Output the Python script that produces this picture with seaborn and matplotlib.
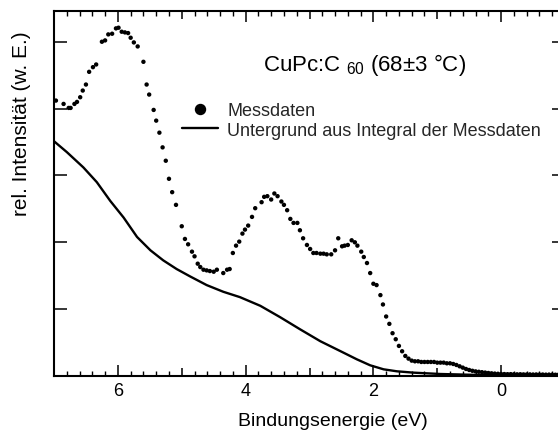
import matplotlib
matplotlib.use("Agg")
import matplotlib.pyplot as plt
import seaborn as sns
from matplotlib.lines import Line2D
from matplotlib.ticker import MultipleLocator, FuncFormatter, NullLocator

# ---------------- data ----------------
energy_meas = [6.97, 6.85, 6.77, 6.74, 6.68, 6.64, 6.59, 6.55, 6.50, 6.45,
               6.39, 6.34, 6.25, 6.20, 6.15, 6.09, 6.03, 5.99, 5.94, 5.89,
               5.84, 5.80, 5.75, 5.69, 5.60, 5.55, 5.51, 5.44, 5.40, 5.35,
               5.30, 5.25, 5.20, 5.15, 5.09, 5.00, 4.95, 4.90, 4.84, 4.80,
               4.75, 4.71, 4.66, 4.61, 4.56, 4.50, 4.45, 4.35, 4.29, 4.25,
               4.20, 4.15, 4.10, 4.05, 4.01, 3.96, 3.90, 3.85, 3.75, 3.71,
               3.66, 3.60, 3.55, 3.50, 3.44, 3.40, 3.35, 3.30, 3.25, 3.19,
               3.15, 3.10, 3.04, 2.99, 2.94, 2.89, 2.83, 2.78, 2.73, 2.66,
               2.60, 2.55, 2.49, 2.45, 2.40, 2.34, 2.29, 2.25, 2.19, 2.15,
               2.10, 2.05, 2.00, 1.95, 1.89, 1.85, 1.80, 1.75, 1.70, 1.65,
               1.60, 1.55, 1.50, 1.45, 1.40,
               1.35, 1.30, 1.25, 1.20, 1.15, 1.10, 1.05, 1.00, 0.95, 0.90,
               0.85, 0.80, 0.75, 0.70, 0.65, 0.60, 0.55, 0.50, 0.45, 0.40,
               0.35, 0.30, 0.25, 0.20, 0.15, 0.10, 0.05, 0.00, -0.05, -0.10,
               -0.15, -0.20, -0.25, -0.30, -0.35, -0.40, -0.45, -0.50, -0.55, -0.60,
               -0.65, -0.70, -0.75, -0.80, -0.85, -0.90]
intensity_meas = [4.12, 4.07, 4.01, 4.01, 4.07, 4.10, 4.17, 4.27, 4.36, 4.55,
                  4.62, 4.66, 5.00, 5.02, 5.11, 5.12, 5.20, 5.21, 5.15, 5.14,
                  5.13, 5.06, 4.99, 4.93, 4.70, 4.36, 4.21, 3.98, 3.82, 3.64,
                  3.42, 3.22, 2.95, 2.75, 2.56, 2.24, 2.05, 1.97, 1.86, 1.79,
                  1.68, 1.63, 1.59, 1.58, 1.57, 1.56, 1.59, 1.54, 1.59, 1.60,
                  1.84, 1.95, 2.01, 2.13, 2.19, 2.25, 2.38, 2.51, 2.60, 2.68,
                  2.69, 2.64, 2.73, 2.69, 2.61, 2.56, 2.48, 2.35, 2.29, 2.29,
                  2.18, 2.06, 1.96, 1.90, 1.84, 1.84, 1.83, 1.83, 1.82, 1.82,
                  1.88, 2.06, 1.94, 1.95, 1.96, 2.03, 2.00, 1.95, 1.86, 1.78,
                  1.69, 1.54, 1.38, 1.36, 1.21, 1.07, 0.89, 0.78, 0.64, 0.55,
                  0.45, 0.37, 0.30, 0.26, 0.23,
                  0.22, 0.22, 0.21, 0.21, 0.21, 0.21, 0.21, 0.20, 0.20, 0.20,
                  0.19, 0.19, 0.18, 0.165, 0.145, 0.125, 0.105, 0.09, 0.078, 0.069,
                  0.063, 0.057, 0.051, 0.045, 0.040, 0.036, 0.033, 0.030, 0.029, 0.027,
                  0.028, 0.026, 0.025, 0.026, 0.024, 0.023, 0.024, 0.022, 0.023, 0.021,
                  0.022, 0.020, 0.021, 0.020, 0.019, 0.020]

energy_bg = [7.01, 6.80, 6.54, 6.33, 6.12, 5.91, 5.70, 5.49, 5.29, 5.08,
             4.87, 4.61, 4.35, 4.09, 3.77, 3.46, 3.15, 2.83, 2.47, 2.26,
             2.05, 1.84, 1.63, 1.37, 0.95, 0.33, -0.30, -1.00]
intensity_bg = [3.52, 3.35, 3.12, 2.90, 2.62, 2.37, 2.08, 1.88, 1.73, 1.60,
                1.49, 1.36, 1.26, 1.18, 1.05, 0.88, 0.70, 0.52, 0.35, 0.25,
                0.16, 0.10, 0.07, 0.05, 0.03, 0.015, 0.01, 0.008]

x_ticks_labeled = [6, 4, 2, 0]
label_meas = "Messdaten"
label_bg = "Untergrund aus Integral der Messdaten"
title_text = "CuPc:C $_{60}$ (68±3 °C)"
xlabel = "Bindungsenergie (eV)"
ylabel = "rel. Intensität (w. E.)"

# ---------------- style ----------------
sns.set_theme(style="ticks")
plt.rcParams["font.family"] = ["Liberation Sans", "DejaVu Sans"]
plt.rcParams["mathtext.fontset"] = "custom"
plt.rcParams["mathtext.rm"] = "Liberation Sans"
plt.rcParams["mathtext.it"] = "Liberation Sans"
plt.rcParams["mathtext.bf"] = "Liberation Sans"

W, H = 558, 439
fig = plt.figure(figsize=(W / 100, H / 100), dpi=100)
left_px, right_px, top_px, bottom_px = 54, 565, 12, 377
ax = fig.add_axes([left_px / W, 1 - bottom_px / H,
                   (right_px - left_px) / W, (bottom_px - top_px) / H])

sns.lineplot(x=energy_bg, y=intensity_bg, color="black", lw=1.7, ax=ax,
             sort=False, legend=False)
sns.scatterplot(x=energy_meas, y=intensity_meas, color="black", s=10,
                edgecolor="none", linewidth=0, ax=ax, legend=False)

ax.set_xlim(7, -1)
ax.set_ylim(0, 5.46)

# x ticks
ax.xaxis.set_major_locator(MultipleLocator(1))
ax.xaxis.set_minor_locator(MultipleLocator(0.2))
ax.xaxis.set_major_formatter(FuncFormatter(
    lambda v, p: f"{int(round(v))}" if int(round(v)) in x_ticks_labeled else ""))
ax.tick_params(axis="x", which="major", direction="in", length=8, width=1.1,
               top=True, bottom=True, labelsize=13, pad=4.5, colors="black")
ax.tick_params(axis="x", which="minor", direction="in", length=3.6, width=1.0,
               top=True, bottom=True, colors="black")
for loc, tick in zip(ax.get_xticks(), ax.xaxis.get_major_ticks()):
    if int(round(loc)) % 2 != 0:
        tick.tick1line.set_markersize(6)
        tick.tick2line.set_markersize(6)

# y ticks
ax.yaxis.set_major_locator(MultipleLocator(1))
ax.yaxis.set_minor_locator(NullLocator())
ax.tick_params(axis="y", which="major", direction="in", length=9.4, width=1.1,
               left=True, right=True, labelleft=False, colors="black")

for sp in ax.spines.values():
    sp.set_linewidth(1.5)
    sp.set_color("black")
    sp.set_visible(True)

ax.set_xlabel(xlabel, fontsize=14, color="black")
ax.xaxis.set_label_coords(0.545, -0.1)
ax.set_ylabel(ylabel, fontsize=15, color="black")
ax.yaxis.set_label_coords(-0.045, 0.695)

ax.text(2.14, 4.58, title_text, fontsize=16, ha="center", va="baseline",
        color="black")

handles = [Line2D([], [], ls="none", marker="o", markersize=7.2, color="black"),
           Line2D([], [], ls="-", lw=1.7, color="black")]
leg = ax.legend(handles, [label_meas, label_bg], loc="upper left",
                bbox_to_anchor=(182 / W, 1 - 103 / H),
                bbox_transform=fig.transFigure, fontsize=13,
                handlelength=2.0, handletextpad=0.5, labelspacing=0.15,
                borderpad=0.0, borderaxespad=0, frameon=True,
                facecolor="white", edgecolor="none", framealpha=1,
                fancybox=False)

fig.savefig("out.png", dpi=100)
